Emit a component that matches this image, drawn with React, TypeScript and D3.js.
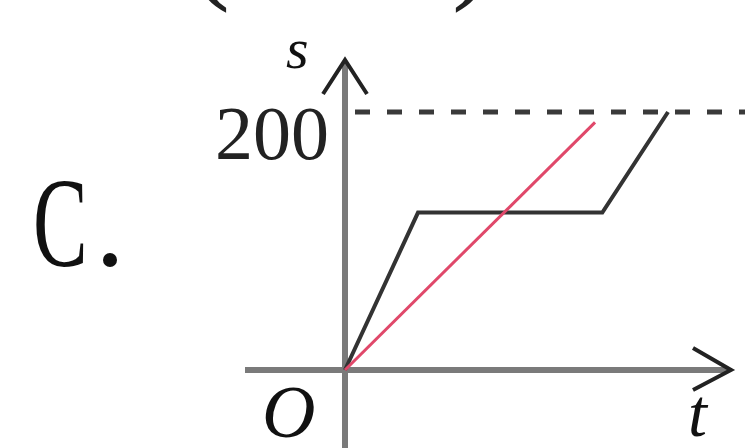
import React from "react";
import * as d3 from "d3";

// s–t graph: distance against time for two movers
const sTicks = [200];
const blackT = [0, 2, 7.05, 8.85];
const blackS = [0, 122, 122, 200];
const redT = [0, 6.85];
const redS = [0, 192];
const optionLetter = "C";

const W = 745;
const H = 448;
const ox = 345;
const oy = 370;

export default function App() {
  const x = d3.scaleLinear().domain([0, 10]).range([ox, ox + 365]);
  const y = d3.scaleLinear().domain([0, 200]).range([oy, 112]);
  const line = d3
    .line<[number, number]>()
    .x((d) => x(d[0]))
    .y((d) => y(d[1]));
  const black = blackT.map((t, i) => [t, blackS[i]] as [number, number]);
  const red = redT.map((t, i) => [t, redS[i]] as [number, number]);
  const serif = "Liberation Serif";

  return (
    <svg
      width={W}
      height={H}
      style={{ position: "fixed", left: 0, top: 0, background: "#fff" }}
    >
      {/* partial brackets of the line above */}
      <text x={190} y={-13} fontFamily={serif} fontSize={120} fill="#222">
        (
      </text>
      <text x={452} y={-13} fontFamily={serif} fontSize={120} fill="#222">
        )
      </text>

      {/* option label */}
      <g transform="translate(33,266) scale(0.64,1)">
        <text x={0} y={0} fontFamily={serif} fontSize={128} fill="#111">
          {optionLetter}
        </text>
      </g>
      <circle cx={110} cy={260} r={7} fill="#111" />

      {/* level guide at s = 200 */}
      {sTicks.map((v) => (
        <line
          key={v}
          x1={ox + 10}
          x2={W}
          y1={y(v)}
          y2={y(v)}
          stroke="#3a3a3a"
          strokeWidth={5}
          strokeDasharray="15 17"
        />
      ))}

      {/* axes */}
      <line x1={245} x2={728} y1={oy} y2={oy} stroke="#7a7a7a" strokeWidth={6} />
      <line x1={ox} x2={ox} y1={H} y2={63} stroke="#7a7a7a" strokeWidth={6} />
      <polyline
        points={`${693},${348} ${731},${oy} ${693},${390}`}
        fill="none"
        stroke="#222"
        strokeWidth={4}
      />
      <polyline
        points={`${323},${94} ${ox},${60} ${367},${94}`}
        fill="none"
        stroke="#222"
        strokeWidth={4}
      />

      {/* tick label */}
      {sTicks.map((v) => (
        <text
          key={v}
          x={329}
          y={y(v) + 47}
          textAnchor="end"
          fontFamily={serif}
          fontSize={76}
          fill="#222"
        >
          {v}
        </text>
      ))}

      {/* axis names */}
      <text x={286} y={68} fontFamily={serif} fontStyle="italic" fontSize={58} fill="#111">
        s
      </text>
      <text x={688} y={436} fontFamily={serif} fontStyle="italic" fontSize={68} fill="#111">
        t
      </text>
      <text x={262} y={437} fontFamily={serif} fontStyle="italic" fontSize={74} fill="#111">
        O
      </text>

      {/* motion curves */}
      <path d={line(black) ?? ""} fill="none" stroke="#333" strokeWidth={4} strokeLinejoin="miter" />
      <path d={line(red) ?? ""} fill="none" stroke="#e0486a" strokeWidth={3} />
    </svg>
  );
}
